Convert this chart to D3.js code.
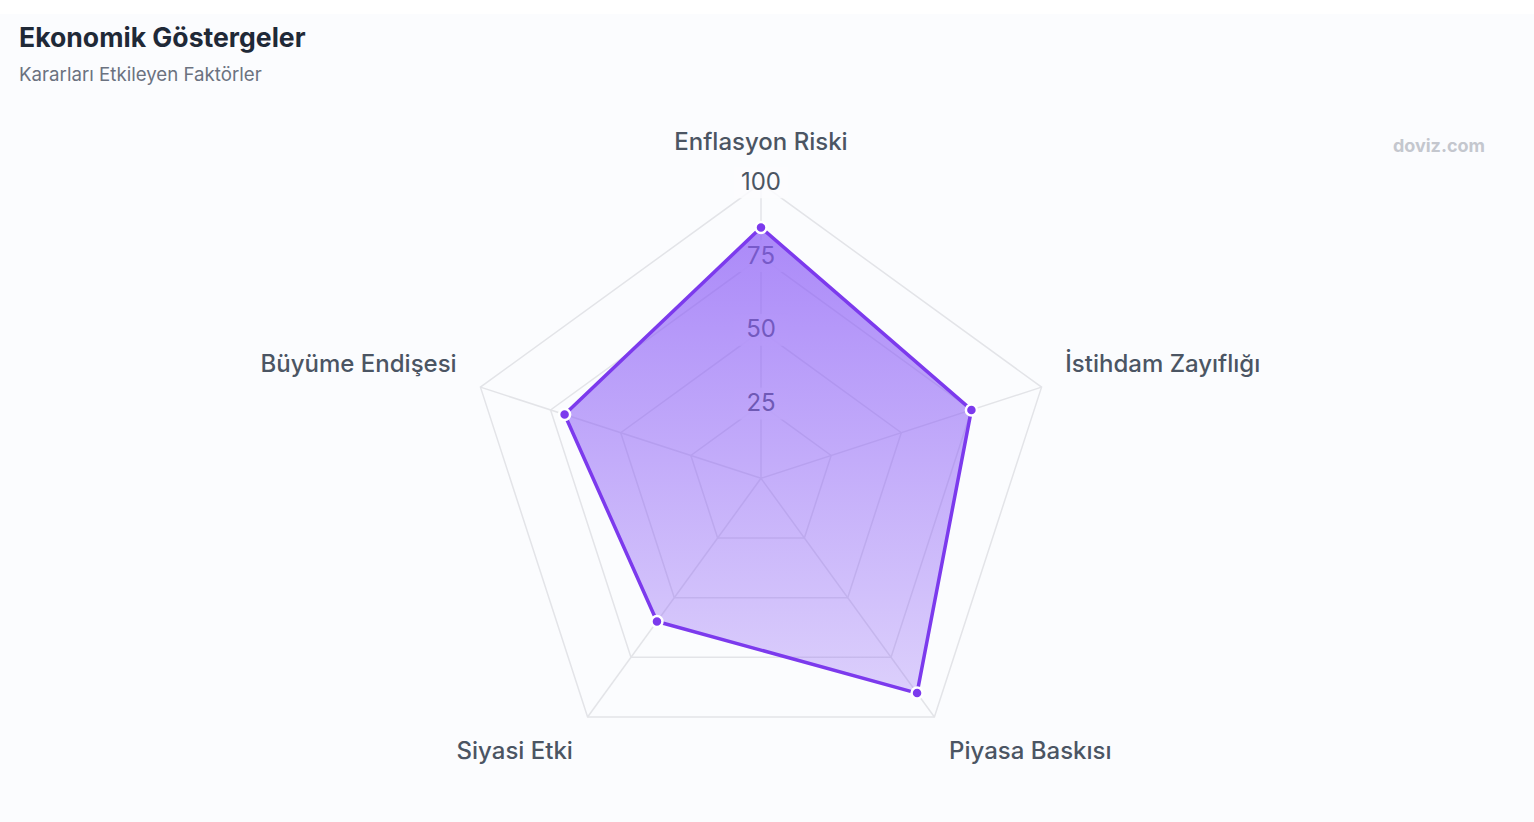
<!DOCTYPE html>
<html><head><meta charset="utf-8">
<script src="https://cdn.jsdelivr.net/npm/d3@7"></script>
<style>
html,body{margin:0;padding:0;background:#fbfcfe;}
svg{display:block;font-family:Inter,"Noto Sans",sans-serif;}
</style></head>
<body><svg id="c" width="1534" height="822"></svg>
<script>
const indicators = ["Enflasyon Riski","İstihdam Zayıflığı","Piyasa Baskısı","Siyasi Etki","Büyüme Endişesi"];
const values = [85, 75, 90, 60, 70];
const tickValues = [25, 50, 75, 100];
const tickLabels = ["25","50","75","100"];

const svg = d3.select("#c");
const cx = 761, cy = 478.3, R = 295;
const n = indicators.length;
const r = d3.scaleLinear().domain([0,100]).range([0,R]);
const ang = i => -Math.PI/2 + i*2*Math.PI/n;
const pt = (i,v) => [cx + r(v)*Math.cos(ang(i)), cy + r(v)*Math.sin(ang(i))];

svg.append("rect").attr("width",1534).attr("height",14).attr("fill","#ffffff");

// title
svg.append("text").attr("x",19).attr("y",47).attr("font-size",26.6).attr("font-weight",700).attr("fill","#1f2937").text("Ekonomik Göstergeler");
svg.append("text").attr("x",19).attr("y",81).attr("font-size",18.7).attr("font-weight",400).attr("fill","#6b7280").text("Kararları Etkileyen Faktörler");
svg.append("text").attr("x",1485).attr("y",152).attr("text-anchor","end").attr("font-size",18).attr("font-weight",700).attr("fill","#c4c7ce").text("doviz.com");

const defs = svg.append("defs");
const grad = defs.append("linearGradient").attr("id","g").attr("x1",0).attr("y1",0).attr("x2",0).attr("y2",1);
grad.append("stop").attr("offset","0%").attr("stop-color","#8b5cf6").attr("stop-opacity",0.72);
grad.append("stop").attr("offset","100%").attr("stop-color","#8b5cf6").attr("stop-opacity",0.28);

const g = svg.append("g");
// rings
tickValues.forEach(t => {
  g.append("polygon")
    .attr("points", d3.range(n).map(i => pt(i,t).join(",")).join(" "))
    .attr("fill","none").attr("stroke","#e3e4e8").attr("stroke-width",1.5);
});
// axes
d3.range(n).forEach(i => {
  const p = pt(i,100);
  g.append("line").attr("x1",cx).attr("y1",cy).attr("x2",p[0]).attr("y2",p[1])
    .attr("stroke","#e3e4e8").attr("stroke-width",1.5);
});
// tick labels
tickValues.forEach((t,k) => {
  const p = pt(0,t);
  g.append("rect").attr("x",p[0]-27).attr("y",p[1]-17).attr("width",54).attr("height",32)
    .attr("fill","#fbfcfe").attr("opacity",0.85);
  g.append("text").attr("x",p[0]).attr("y",p[1]-2).attr("dy","0.36em").attr("text-anchor","middle")
    .attr("font-size",24).attr("fill","#4b5563").text(tickLabels[k]);
});
// area
const line = d3.line().curve(d3.curveLinearClosed);
const pts = values.map((v,i) => pt(i,v));
g.append("path").attr("d", line(pts)).attr("fill","url(#g)").attr("stroke","#7c3aed").attr("stroke-width",3.5).attr("stroke-linejoin","round");
g.selectAll("circle.p").data(pts).join("circle").attr("cx",d=>d[0]).attr("cy",d=>d[1]).attr("r",5.5)
  .attr("fill","#7c3aed").attr("stroke","#ffffff").attr("stroke-width",2.5);

// axis names
const gap = 25;
indicators.forEach((name,i) => {
  const a = ang(i);
  const x = cx + (R+gap)*Math.cos(a), y = cy + (R+gap)*Math.sin(a);
  const c = Math.cos(a), s = Math.sin(a);
  let anchor = Math.abs(c) < 0.01 ? "middle" : (c > 0 ? "start" : "end");
  let dy;
  if (i === 0) dy = -8;
  else if (s < 0) dy = -7;
  else dy = 22;
  g.append("text").attr("x",x).attr("y",y+dy).attr("text-anchor",anchor)
    .attr("font-size",24).attr("font-weight",500).attr("fill","#4b5563").text(name);
});
</script></body></html>
